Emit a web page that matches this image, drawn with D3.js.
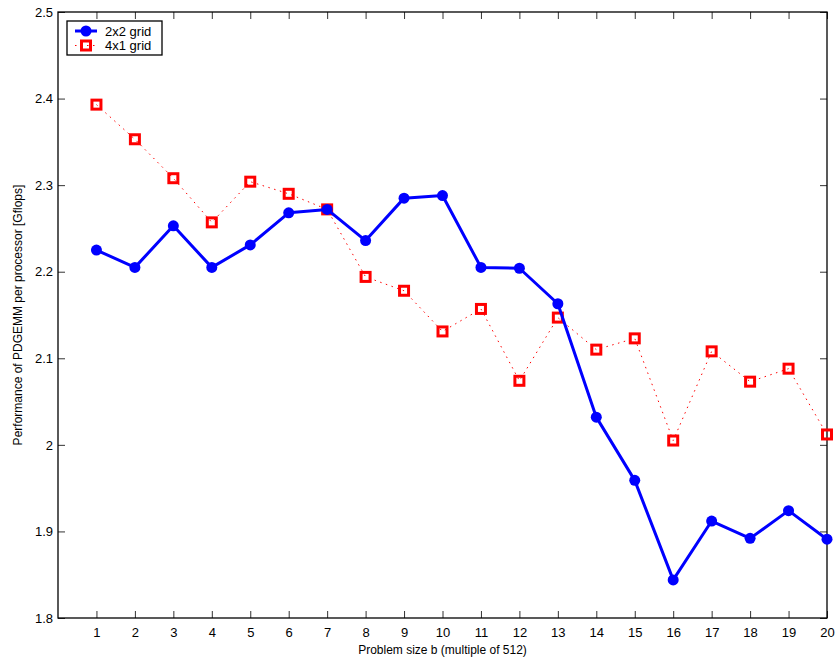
<!DOCTYPE html>
<html>
<head>
<meta charset="utf-8">
<script src="https://cdn.jsdelivr.net/npm/d3@7"></script>
<style>
  body { margin: 0; background: #fff; }
  text { font-family: "Liberation Sans", Arial, sans-serif; }
</style>
</head>
<body>
<div id="container"></div>
<script>
/* CONSTANTS AND GLOBALS */
const width = 836,
  height = 662,
  margin = { top: 12, bottom: 44, left: 58, right: 9 };

/* DATA */
const problemSizes = d3.range(1, 21);
const grid2x2 = [2.225, 2.205, 2.253, 2.205, 2.231, 2.268, 2.272, 2.236, 2.285, 2.288,
  2.205, 2.204, 2.163, 2.032, 1.959, 1.844, 1.912, 1.892, 1.924, 1.891];
const grid4x1 = [2.393, 2.353, 2.308, 2.257, 2.304, 2.290, 2.272, 2.194, 2.178, 2.131,
  2.157, 2.074, 2.147, 2.110, 2.123, 2.005, 2.108, 2.073, 2.088, 2.012];
const seriesNames = ["2x2 grid", "4x1 grid"];
const yTicks = [1.8, 1.9, 2, 2.1, 2.2, 2.3, 2.4, 2.5];

// SCALES
const xScale = d3.scaleLinear()
  .domain([0, 20])
  .range([margin.left, width - margin.right]);

const yScale = d3.scaleLinear()
  .domain([1.8, 2.5])
  .range([height - margin.bottom, margin.top]);

// SVG
const svg = d3.select("#container")
  .append("svg")
  .attr("width", width)
  .attr("height", height);

// AXES (ticks inside, mirrored on top/right)
const tickLen = 7;
const xAxis = d3.axisBottom(xScale).tickValues(problemSizes).tickSizeInner(-tickLen).tickSizeOuter(0).tickPadding(10);
const yAxis = d3.axisLeft(yScale).tickValues(yTicks).tickSizeInner(-tickLen).tickSizeOuter(0).tickPadding(5)
  .tickFormat(d => d === 2 ? "2" : d3.format(".1f")(d));
const xTop = d3.axisTop(xScale).tickValues(problemSizes).tickSizeInner(-tickLen).tickSizeOuter(0).tickFormat("");
const yRight = d3.axisRight(yScale).tickValues(yTicks).tickSizeInner(-tickLen).tickSizeOuter(0).tickFormat("");

function styleAxis(g) {
  g.select(".domain").remove();
  g.selectAll(".tick line").attr("stroke", "#333").attr("stroke-width", 1);
  g.selectAll("text").attr("font-size", 13).attr("fill", "#000")
    .style("font-family", "'Liberation Sans', Arial, sans-serif");
}

svg.append("g")
  .attr("transform", `translate(0,${height - margin.bottom})`)
  .call(xAxis).call(styleAxis);
svg.append("g")
  .attr("transform", `translate(${margin.left},0)`)
  .call(yAxis).call(styleAxis);
svg.append("g")
  .attr("transform", `translate(0,${margin.top})`)
  .call(xTop).call(styleAxis);
svg.append("g")
  .attr("transform", `translate(${width - margin.right},0)`)
  .call(yRight).call(styleAxis);

// frame
svg.append("rect")
  .attr("x", margin.left)
  .attr("y", margin.top)
  .attr("width", width - margin.left - margin.right)
  .attr("height", height - margin.top - margin.bottom)
  .attr("fill", "none")
  .attr("stroke", "#000")
  .attr("stroke-width", 1.3);

// LINES
const line = d3.line()
  .x((d, i) => xScale(problemSizes[i]))
  .y(d => yScale(d));

svg.append("path")
  .datum(grid4x1)
  .attr("d", line)
  .attr("fill", "none")
  .attr("stroke", "#ff0000")
  .attr("stroke-width", 1)
  .attr("stroke-dasharray", "1.5,4.5");

svg.selectAll("rect.m4x1")
  .data(grid4x1)
  .join("rect")
  .attr("class", "m4x1")
  .attr("x", (d, i) => xScale(problemSizes[i]) - 4.5)
  .attr("y", d => yScale(d) - 4.5)
  .attr("width", 9)
  .attr("height", 9)
  .attr("fill", "none")
  .attr("stroke", "#ff0000")
  .attr("stroke-width", 3);

svg.append("path")
  .datum(grid2x2)
  .attr("d", line)
  .attr("fill", "none")
  .attr("stroke", "#0000ff")
  .attr("stroke-width", 3)
  .attr("stroke-linejoin", "round");

svg.selectAll("circle.m2x2")
  .data(grid2x2)
  .join("circle")
  .attr("class", "m2x2")
  .attr("cx", (d, i) => xScale(problemSizes[i]))
  .attr("cy", d => yScale(d))
  .attr("r", 5.5)
  .attr("fill", "#0000ff");

// LEGEND
const legend = svg.append("g").attr("transform", "translate(67,21)");
legend.append("rect")
  .attr("width", 95).attr("height", 34)
  .attr("fill", "#fff").attr("stroke", "#000").attr("stroke-width", 1.3);
legend.append("line").attr("x1", 8).attr("x2", 30).attr("y1", 10).attr("y2", 10)
  .attr("stroke", "#0000ff").attr("stroke-width", 3);
legend.append("circle").attr("cx", 19).attr("cy", 10).attr("r", 5.5).attr("fill", "#0000ff");
legend.append("line").attr("x1", 8).attr("x2", 30).attr("y1", 24.5).attr("y2", 24.5)
  .attr("stroke", "#ff0000").attr("stroke-width", 1).attr("stroke-dasharray", "1.5,4.5");
legend.append("rect").attr("x", 14.5).attr("y", 20).attr("width", 9).attr("height", 9)
  .attr("fill", "none").attr("stroke", "#ff0000").attr("stroke-width", 3);
legend.selectAll("text.lg")
  .data(seriesNames)
  .join("text")
  .attr("class", "lg")
  .attr("x", 38)
  .attr("y", (d, i) => 10 + i * 14.5)
  .attr("dy", "0.35em")
  .attr("font-size", 13)
  .text(d => d);

// AXIS TITLES
svg.append("text")
  .attr("x", (margin.left + width - margin.right) / 2)
  .attr("y", 654)
  .attr("text-anchor", "middle")
  .attr("font-size", 12)
  .text("Problem size b (multiple of 512)");

svg.append("text")
  .attr("transform", `translate(22,${(margin.top + height - margin.bottom) / 2}) rotate(-90)`)
  .attr("text-anchor", "middle")
  .attr("font-size", 12)
  .text("Performance of PDGEMM per processor [Gflops]");
</script>
</body>
</html>
